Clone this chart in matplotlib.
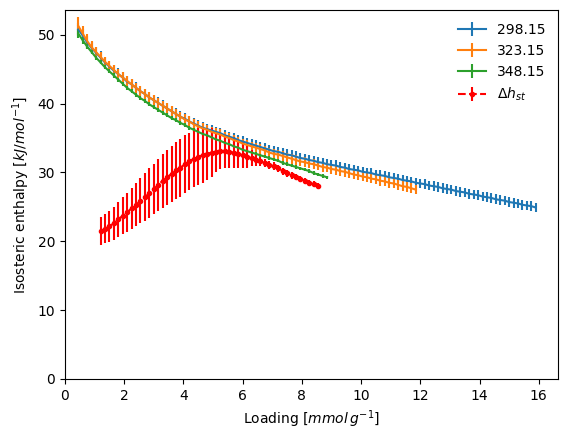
import numpy as np
import matplotlib
matplotlib.use("Agg")
import matplotlib.pyplot as plt

# loading grid [mmol/g]
loading = [0.45, 0.60, 0.75, 0.90, 1.05, 1.20, 1.35, 1.50, 1.65, 1.80,
           1.95, 2.10, 2.25, 2.40, 2.55, 2.70, 2.85, 3.00, 3.15, 3.30,
           3.45, 3.60, 3.75, 3.90, 4.05, 4.20, 4.35, 4.50, 4.65, 4.80,
           4.95, 5.10, 5.25, 5.40, 5.55, 5.70, 5.85, 6.00, 6.15, 6.30,
           6.45, 6.60, 6.75, 6.90, 7.05, 7.20, 7.35, 7.50, 7.65, 7.80,
           7.95, 8.10, 8.25, 8.40, 8.55, 8.70, 8.85, 9.00, 9.15, 9.30,
           9.45, 9.60, 9.75, 9.90, 10.05, 10.20, 10.35, 10.50, 10.65, 10.80,
           10.95, 11.10, 11.25, 11.40, 11.55, 11.70, 11.85, 12.00, 12.15, 12.30,
           12.45, 12.60, 12.75, 12.90, 13.05, 13.20, 13.35, 13.50, 13.65, 13.80,
           13.95, 14.10, 14.25, 14.40, 14.55, 14.70, 14.85, 15.00, 15.15, 15.30,
           15.45, 15.60, 15.75, 15.90]

# 298.15 K
h_298 = [50.8, 49.9, 48.9, 48.1, 47.4, 46.7, 46.0, 45.4, 44.8, 44.3,
         43.8, 43.2, 42.8, 42.3, 41.8, 41.4, 40.9, 40.5, 40.1, 39.7,
         39.3, 38.9, 38.5, 38.1, 37.8, 37.4, 37.1, 36.8, 36.5, 36.3,
         36.1, 35.9, 35.7, 35.4, 35.2, 35.0, 34.7, 34.5, 34.3, 34.1,
         33.9, 33.7, 33.5, 33.3, 33.1, 33.0, 32.8, 32.6, 32.5, 32.3,
         32.1, 32.0, 31.8, 31.7, 31.5, 31.4, 31.2, 31.1, 31.0, 30.8,
         30.7, 30.5, 30.4, 30.3, 30.1, 30.0, 29.9, 29.7, 29.6, 29.5,
         29.3, 29.2, 29.1, 28.9, 28.8, 28.7, 28.5, 28.4, 28.3, 28.1,
         28.0, 27.9, 27.7, 27.6, 27.5, 27.3, 27.2, 27.1, 26.9, 26.8,
         26.7, 26.5, 26.4, 26.3, 26.1, 26.0, 25.9, 25.7, 25.6, 25.5,
         25.3, 25.2, 25.1, 24.9]
err_298 = [1.0, 0.95, 0.95, 0.9, 0.9, 0.9, 0.85, 0.85, 0.85, 0.85] + \
          [0.8] * 20 + [0.75] * 30 + [0.7] * 44

# 323.15 K
h_323 = [51.3, 50.2, 49.1, 48.2, 47.5, 46.8, 46.1, 45.5, 44.9, 44.3,
         43.8, 43.3, 42.8, 42.3, 41.8, 41.4, 40.9, 40.5, 40.1, 39.7,
         39.3, 38.9, 38.5, 38.1, 37.7, 37.4, 37.0, 36.7, 36.4, 36.2,
         35.9, 35.7, 35.5, 35.2, 35.0, 34.7, 34.5, 34.2, 34.0, 33.8,
         33.6, 33.4, 33.2, 32.9, 32.7, 32.6, 32.4, 32.2, 32.0, 31.8,
         31.6, 31.5, 31.3, 31.2, 31.0, 30.8, 30.7, 30.5, 30.4, 30.2,
         30.1, 29.9, 29.7, 29.6, 29.4, 29.3, 29.1, 29.0, 28.8, 28.7,
         28.5, 28.4, 28.2, 28.0, 27.9, 27.7, 27.5]
err_323 = [1.3, 1.1, 1.0, 0.9] + [0.75] * 30 + [0.7] * 43

# 348.15 K
h_348 = [50.2, 49.2, 48.3, 47.5, 46.7, 46.0, 45.3, 44.7, 44.1, 43.5,
         42.9, 42.3, 41.8, 41.3, 40.8, 40.4, 39.9, 39.5, 39.1, 38.7,
         38.3, 37.9, 37.6, 37.2, 36.9, 36.5, 36.2, 35.9, 35.6, 35.4,
         35.1, 34.8, 34.6, 34.3, 34.1, 33.8, 33.6, 33.3, 33.1, 32.9,
         32.7, 32.5, 32.3, 32.1, 31.9, 31.7, 31.4, 31.2, 31.0, 30.8,
         30.6, 30.4, 30.2, 29.9, 29.7, 29.5, 29.3]
err_348 = [0.6, 0.5, 0.4] + [0.3] * 24 + [0.25] * 30

# mean isosteric enthalpy, loadings 1.20 .. 8.55
h_st = [21.5, 21.8, 22.2, 22.6, 23.2, 23.7, 24.2, 24.8, 25.3, 25.9,
        26.4, 27.0, 27.6, 28.2, 28.8, 29.3, 29.8, 30.3, 30.7, 31.2,
        31.6, 32.0, 32.3, 32.5, 32.7, 32.9, 33.0, 33.05, 33.05, 33.0,
        32.9, 32.7, 32.5, 32.3, 32.1, 31.8, 31.6, 31.4, 31.1, 30.9,
        30.6, 30.2, 29.9, 29.6, 29.3, 29.1, 28.8, 28.5, 28.3, 28.0]
err_st = [2.0, 2.1, 2.25, 2.4, 2.55, 2.7, 2.85, 3.0, 3.15, 3.3,
          3.45, 3.6, 3.7, 3.8, 3.9, 4.0, 4.1, 4.15, 4.2, 4.2,
          4.2, 4.15, 4.1, 4.0, 3.8, 3.5, 3.0, 2.6, 2.4, 2.3,
          2.2, 2.1, 1.9, 1.6, 1.2, 0.9, 0.7, 0.6, 0.6, 0.55,
          0.55, 0.5, 0.5, 0.5, 0.45, 0.45, 0.45, 0.4, 0.4, 0.4]

x = np.array(loading)

fig = plt.figure(figsize=(5.7, 4.4), dpi=100)
ax = fig.add_axes([0.114, 0.139, 0.865, 0.838])

ax.errorbar(x[:len(h_298)], h_298, yerr=err_298, label='298.15')
ax.errorbar(x[:len(h_323)], h_323, yerr=err_323, label='323.15')
ax.errorbar(x[:len(h_348)], h_348, yerr=err_348, label='348.15')
ax.errorbar(x[5:5 + len(h_st)], h_st, yerr=err_st, fmt='.--', color='red',
            label=r'$\Delta h_{st}$')

ax.set_xlim(0, 16.65)
ax.set_ylim(0, 53.6)
ax.set_xlabel(r'Loading [$mmol\, g^{-1}$]')
ax.set_ylabel(r'Isosteric enthalpy [$kJ/mol^{-1}$]')
ax.legend(frameon=False, loc='upper right')

fig.savefig('out.png')
